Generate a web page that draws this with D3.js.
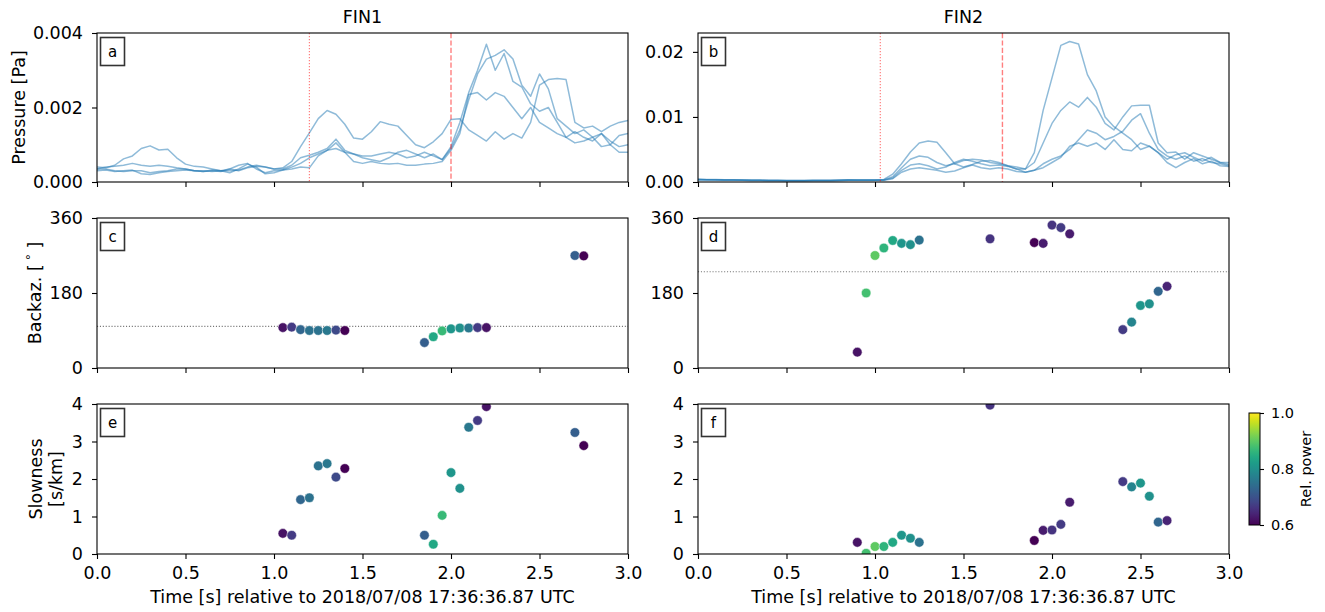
<!DOCTYPE html>
<html>
<head>
<meta charset="utf-8">
<script src="https://cdn.jsdelivr.net/npm/d3@7"></script>
<style>
  body { margin: 0; background: #fff; }
  svg text { font-family: "DejaVu Sans", sans-serif; }
</style>
</head>
<body>
<svg id="fig" width="1325" height="612"></svg>
<script>
// ---- data ----------------------------------------------------------------
// sample times of the pressure traces [s]
const traceTimes = [0.00,0.05,0.10,0.15,0.20,0.25,0.30,0.35,0.40,0.45,0.50,0.55,0.60,0.65,0.70,0.75,0.80,0.85,0.90,0.95,
  1.00,1.05,1.10,1.15,1.20,1.25,1.30,1.35,1.40,1.45,1.50,1.55,1.60,1.65,1.70,1.75,1.80,1.85,1.90,1.95,
  2.00,2.05,2.10,2.15,2.20,2.25,2.30,2.35,2.40,2.45,2.50,2.55,2.60,2.65,2.70,2.75,2.80,2.85,2.90,2.95,3.00];

// FIN1 pressure, four channels [mPa]
const fin1Ch1 = [0.40,0.38,0.45,0.62,0.70,0.90,0.97,0.86,0.88,0.65,0.48,0.42,0.40,0.35,0.30,0.30,0.32,0.40,0.45,0.40,0.35,
  0.38,0.55,0.95,1.32,1.70,1.92,1.82,1.55,1.18,1.15,1.35,1.62,1.55,1.50,1.25,1.00,0.92,1.08,1.30,1.68,
  1.70,1.40,1.25,1.10,1.35,1.15,1.30,1.18,1.60,2.60,2.75,2.78,2.75,1.60,1.45,1.50,1.35,1.50,1.60,1.65];
const fin1Ch2 = [0.35,0.35,0.30,0.28,0.30,0.30,0.25,0.28,0.30,0.35,0.35,0.30,0.28,0.30,0.28,0.35,0.45,0.50,0.35,0.25,0.30,
  0.32,0.40,0.50,0.65,0.75,0.85,1.05,0.80,0.75,0.70,0.70,0.75,0.80,0.75,0.65,0.70,0.80,0.70,0.60,0.95,
  1.60,2.40,3.00,3.70,3.00,3.45,2.70,2.55,2.10,1.90,2.00,1.60,1.20,1.05,1.10,1.20,0.95,1.00,0.80,0.80];
const fin1Ch3 = [0.35,0.40,0.42,0.45,0.50,0.45,0.42,0.45,0.42,0.38,0.35,0.30,0.30,0.28,0.30,0.35,0.30,0.38,0.42,0.40,0.35,
  0.35,0.45,0.65,0.72,0.80,0.90,1.15,0.85,0.75,0.65,0.60,0.55,0.65,0.80,0.85,0.75,0.65,0.75,0.60,0.90,
  1.40,2.20,2.90,3.30,3.40,3.55,3.30,2.60,2.30,2.90,2.50,1.70,1.50,1.30,1.40,1.20,1.30,1.10,0.95,1.00];
const fin1Ch4 = [0.30,0.32,0.28,0.30,0.32,0.22,0.20,0.25,0.28,0.30,0.32,0.30,0.28,0.32,0.30,0.25,0.35,0.48,0.40,0.22,0.25,
  0.32,0.35,0.40,0.38,0.70,0.85,0.90,0.80,0.55,0.50,0.55,0.50,0.48,0.50,0.45,0.45,0.48,0.50,0.55,0.85,
  1.30,2.35,2.40,2.20,2.40,2.30,2.00,1.70,2.00,1.60,1.45,1.30,1.20,1.35,1.20,1.10,1.30,1.00,1.25,1.30];

// FIN2 pressure, four channels [mPa]
const fin2Ch1 = [0.45,0.40,0.40,0.35,0.35,0.30,0.30,0.30,0.25,0.25,0.25,0.25,0.25,0.25,0.25,0.25,0.30,0.35,0.30,0.30,0.30,
  0.40,1.20,2.80,4.60,6.00,6.30,6.10,4.50,2.80,2.30,2.70,3.20,3.30,3.00,2.50,2.00,2.00,4.50,11.0,16.0,
  21.0,21.6,21.2,16.5,14.0,10.0,8.50,7.50,6.50,5.00,5.50,4.50,3.00,2.20,3.00,3.60,2.80,3.20,2.50,2.40];
const fin2Ch2 = [0.35,0.35,0.30,0.30,0.30,0.25,0.25,0.25,0.20,0.20,0.20,0.20,0.20,0.20,0.20,0.20,0.25,0.25,0.25,0.25,0.25,
  0.30,0.80,2.20,3.50,4.00,3.80,3.00,2.50,2.80,3.30,3.50,3.40,3.00,2.80,2.50,2.30,2.00,3.00,6.00,9.00,
  11.0,12.3,11.5,13.0,11.5,9.00,8.00,10.0,11.7,11.8,11.8,6.00,4.50,4.60,3.50,4.50,4.00,3.50,3.00,2.70];
const fin2Ch3 = [0.40,0.35,0.35,0.30,0.30,0.30,0.25,0.25,0.25,0.25,0.20,0.20,0.20,0.25,0.25,0.25,0.25,0.30,0.30,0.30,0.30,
  0.30,0.60,1.80,2.60,2.80,2.50,2.00,2.30,3.00,3.50,3.20,2.80,2.50,2.60,2.40,2.00,1.50,1.80,2.80,3.50,
  4.00,5.00,6.50,8.00,7.50,6.50,7.00,7.80,9.50,10.5,7.50,5.00,4.00,3.50,4.00,3.20,3.60,3.00,2.80,2.50];
const fin2Ch4 = [0.30,0.30,0.30,0.25,0.25,0.25,0.20,0.20,0.20,0.20,0.20,0.20,0.20,0.20,0.20,0.20,0.20,0.25,0.25,0.25,0.25,
  0.25,0.50,1.50,2.00,2.20,2.00,1.80,1.50,1.70,2.20,2.60,2.20,2.00,2.20,2.00,1.60,1.50,1.80,2.20,3.00,
  3.80,5.50,6.00,5.50,6.00,5.00,6.50,5.00,4.80,6.00,5.50,4.50,3.50,4.20,4.50,3.80,3.20,3.80,3.00,3.00];

// phase picks (dotted / dashed red lines) [s]
const fin1Picks = [1.20, 2.00];
const fin2Picks = [1.03, 1.72];

// array processing results
const fin1Times = [1.05,1.10,1.15,1.20,1.25,1.30,1.35,1.40,1.85,1.90,1.95,2.00,2.05,2.10,2.15,2.20,2.70,2.75];
const fin1Backaz = [97,98,92,90,90,90,91,90,61,75,89,94,96,96,97,97,270,269];
const fin1Slowness = [0.55,0.50,1.45,1.50,2.35,2.41,2.05,2.28,0.50,0.26,1.03,2.17,1.75,3.38,3.56,3.93,3.24,2.89];
const fin1Power = [0.62,0.67,0.73,0.75,0.75,0.76,0.69,0.60,0.72,0.84,0.87,0.81,0.80,0.76,0.67,0.62,0.72,0.60];
const fin1ExpectedBackaz = 100;

const fin2Times = [0.90,0.95,1.00,1.05,1.10,1.15,1.20,1.25,1.65,1.90,1.95,2.00,2.05,2.10,2.40,2.45,2.50,2.55,2.60,2.65];
const fin2Backaz = [38,180,270,288,306,299,296,307,310,301,299,343,337,322,92,110,150,154,184,196];
const fin2Slowness = [0.31,0.02,0.20,0.20,0.31,0.50,0.42,0.31,3.97,0.36,0.63,0.64,0.79,1.38,1.93,1.79,1.89,1.54,0.85,0.89];
const fin2Power = [0.62,0.88,0.90,0.86,0.84,0.81,0.80,0.75,0.66,0.60,0.63,0.66,0.67,0.63,0.67,0.78,0.81,0.80,0.73,0.64];
const fin2ExpectedBackaz = 231;

const xTicks = [0, 0.5, 1, 1.5, 2, 2.5, 3];
const pressureTicks1 = [0, 0.002, 0.004];
const pressureTicks2 = [0, 0.01, 0.02];
const backazTicks = [0, 180, 360];
const slownessTicks = [0, 1, 2, 3, 4];
const powerTicks = [0.6, 0.8, 1.0];

// ---- layout --------------------------------------------------------------
const COL_X = [97, 698];
const PANEL_W = 531;
const ROWS = [[33, 182], [218, 368], [404, 554]];
const FS = 17.5;
const CB_FS = 14.5;
const TRACE_COLOR = '#1f77b4';

const svg = d3.select('#fig');
const power = d3.scaleSequential(d3.interpolateViridis).domain([0.6, 1.0]);

function makePanel(col, row, yDomain) {
  const left = COL_X[col], top = ROWS[row][0], bottom = ROWS[row][1];
  const x = d3.scaleLinear().domain([0, 3]).range([left, left + PANEL_W]);
  const y = d3.scaleLinear().domain(yDomain).range([bottom, top]);
  const id = `clip-${col}-${row}`;
  svg.append('clipPath').attr('id', id).append('rect')
    .attr('x', left).attr('y', top).attr('width', PANEL_W).attr('height', bottom - top);
  const plot = svg.append('g').attr('clip-path', `url(#${id})`);
  return { x, y, plot, left, top, bottom };
}

function styleAxis(g, size) {
  g.select('.domain').remove();
  g.selectAll('.tick line').attr('stroke', '#000').attr('stroke-width', 1.1);
  g.selectAll('.tick text').attr('font-size', size).attr('fill', '#000')
    .attr('font-family', '"DejaVu Sans", sans-serif');
}

function finishPanel(p, yTicks, yFmt, showX, letter) {
  const gx = svg.append('g').attr('transform', `translate(0,${p.bottom})`)
    .call(d3.axisBottom(p.x).tickValues(xTicks).tickSize(5).tickPadding(8).tickSizeOuter(0)
      .tickFormat(showX ? d3.format('.1f') : () => ''));
  styleAxis(gx, FS);
  const gy = svg.append('g').attr('transform', `translate(${p.left},0)`)
    .call(d3.axisLeft(p.y).tickValues(yTicks).tickSize(5).tickPadding(9).tickSizeOuter(0)
      .tickFormat(yFmt));
  styleAxis(gy, FS);

  // frame
  svg.append('rect')
    .attr('x', p.left).attr('y', p.top)
    .attr('width', PANEL_W).attr('height', p.bottom - p.top)
    .attr('fill', 'none').attr('stroke', '#000').attr('stroke-width', 1.1);

  // panel letter box
  svg.append('rect')
    .attr('x', p.left + 3.5).attr('y', p.top + 4.5)
    .attr('width', 24).attr('height', 28)
    .attr('fill', '#fff').attr('stroke', '#333').attr('stroke-width', 1.6);
  svg.append('text')
    .attr('x', p.left + 15.5).attr('y', p.top + 23.5)
    .attr('text-anchor', 'middle').attr('font-size', 15).attr('fill', '#000')
    .text(letter);
}

function drawTraces(p, traces, picks) {
  const line = d3.line().x((d, i) => p.x(traceTimes[i])).y(d => p.y(d / 1000));
  traces.forEach(tr => {
    p.plot.append('path')
      .attr('d', line(tr))
      .attr('fill', 'none')
      .attr('stroke', TRACE_COLOR)
      .attr('stroke-opacity', 0.5)
      .attr('stroke-width', 1.5)
      .attr('stroke-linejoin', 'round');
  });
  // first pick dotted, second dashed
  p.plot.append('line')
    .attr('x1', p.x(picks[0])).attr('x2', p.x(picks[0]))
    .attr('y1', p.top).attr('y2', p.bottom)
    .attr('stroke', '#ff0000').attr('stroke-opacity', 0.5)
    .attr('stroke-width', 1.2).attr('stroke-dasharray', '1.2,1.8');
  p.plot.append('line')
    .attr('x1', p.x(picks[1])).attr('x2', p.x(picks[1]))
    .attr('y1', p.top).attr('y2', p.bottom)
    .attr('stroke', '#ff0000').attr('stroke-opacity', 0.5)
    .attr('stroke-width', 1.4).attr('stroke-dasharray', '5.2,2.2');
}

function drawDots(p, times, values, powers) {
  times.forEach((t, i) => {
    p.plot.append('circle')
      .attr('cx', p.x(t))
      .attr('cy', p.y(values[i]))
      .attr('r', 4.8)
      .attr('fill', power(powers[i]))
      .attr('stroke', '#fff').attr('stroke-width', 0.5);
  });
}

function drawRefLine(p, value) {
  p.plot.append('line')
    .attr('x1', p.left).attr('x2', p.left + PANEL_W)
    .attr('y1', p.y(value)).attr('y2', p.y(value))
    .attr('stroke', '#777').attr('stroke-width', 1.1)
    .attr('stroke-dasharray', '1.1,1.8');
}

// ---- panels --------------------------------------------------------------
const pa = makePanel(0, 0, [0, 0.004]);
drawTraces(pa, [fin1Ch1, fin1Ch2, fin1Ch3, fin1Ch4], fin1Picks);
finishPanel(pa, pressureTicks1, d3.format('.3f'), false, 'a');

const pb = makePanel(1, 0, [0, 0.0229]);
drawTraces(pb, [fin2Ch1, fin2Ch2, fin2Ch3, fin2Ch4], fin2Picks);
finishPanel(pb, pressureTicks2, d3.format('.2f'), false, 'b');

const pc = makePanel(0, 1, [0, 360]);
drawRefLine(pc, fin1ExpectedBackaz);
drawDots(pc, fin1Times, fin1Backaz, fin1Power);
finishPanel(pc, backazTicks, d3.format('d'), false, 'c');

const pd = makePanel(1, 1, [0, 360]);
drawRefLine(pd, fin2ExpectedBackaz);
drawDots(pd, fin2Times, fin2Backaz, fin2Power);
finishPanel(pd, backazTicks, d3.format('d'), false, 'd');

const pe = makePanel(0, 2, [0, 4]);
drawDots(pe, fin1Times, fin1Slowness, fin1Power);
finishPanel(pe, slownessTicks, d3.format('d'), true, 'e');

const pf = makePanel(1, 2, [0, 4]);
drawDots(pf, fin2Times, fin2Slowness, fin2Power);
finishPanel(pf, slownessTicks, d3.format('d'), true, 'f');

// ---- titles and labels ---------------------------------------------------
[['FIN1', 0], ['FIN2', 1]].forEach(([name, col]) => {
  svg.append('text')
    .attr('x', COL_X[col] + PANEL_W / 2).attr('y', 23)
    .attr('text-anchor', 'middle').attr('font-size', FS).text(name);
  svg.append('text')
    .attr('x', COL_X[col] + PANEL_W / 2).attr('y', 603)
    .attr('text-anchor', 'middle').attr('font-size', FS)
    .text('Time [s] relative to 2018/07/08 17:36:36.87 UTC');
});

function yLabel(x, yc, parts) {
  const t = svg.append('text')
    .attr('transform', `translate(${x},${yc}) rotate(-90)`)
    .attr('text-anchor', 'middle').attr('font-size', FS);
  parts(t);
}
yLabel(24.5, (ROWS[0][0] + ROWS[0][1]) / 2, t => t.text('Pressure [Pa]'));
yLabel(41, (ROWS[1][0] + ROWS[1][1]) / 2, t => {
  t.append('tspan').text('Backaz. [');
  t.append('tspan').attr('dy', -6).attr('font-size', 12.5).text(' \u00b0');
  t.append('tspan').attr('dy', 6).text(' ]');
});
yLabel(42, (ROWS[2][0] + ROWS[2][1]) / 2, t => t.text('Slowness'));
yLabel(62, (ROWS[2][0] + ROWS[2][1]) / 2, t => t.text('[s/km]'));

// ---- colorbar ------------------------------------------------------------
const CB = { x: 1249, w: 11, top: 413, bottom: 525 };
const grad = svg.append('defs').append('linearGradient')
  .attr('id', 'viridis').attr('x1', 0).attr('y1', 1).attr('x2', 0).attr('y2', 0);
d3.range(0, 1.0001, 0.05).forEach(s => {
  grad.append('stop').attr('offset', s).attr('stop-color', d3.interpolateViridis(s));
});
svg.append('rect')
  .attr('x', CB.x).attr('y', CB.top).attr('width', CB.w).attr('height', CB.bottom - CB.top)
  .attr('fill', 'url(#viridis)').attr('stroke', '#000').attr('stroke-width', 1);
const cbScale = d3.scaleLinear().domain([0.6, 1.0]).range([CB.bottom, CB.top]);
const gcb = svg.append('g').attr('transform', `translate(${CB.x + CB.w},0)`)
  .call(d3.axisRight(cbScale).tickValues(powerTicks).tickSize(4).tickPadding(7).tickSizeOuter(0)
    .tickFormat(d3.format('.1f')));
styleAxis(gcb, CB_FS);
svg.append('text')
  .attr('transform', `translate(1311,${(CB.top + CB.bottom) / 2}) rotate(-90)`)
  .attr('text-anchor', 'middle').attr('font-size', CB_FS).text('Rel. power');
</script>
</body>
</html>
